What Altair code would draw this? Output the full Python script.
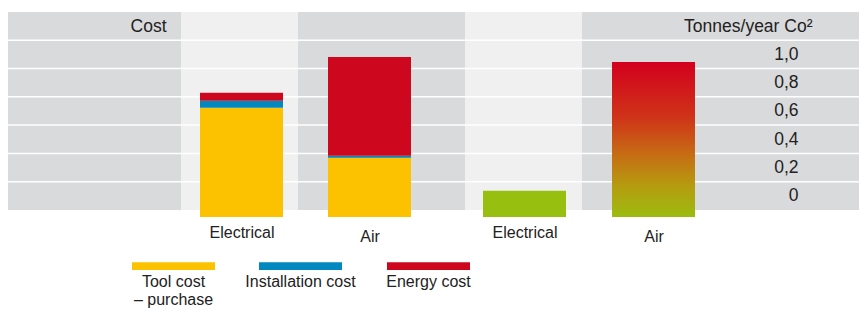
import altair as alt
import pandas as pd

# ---------------- data ----------------
tools = ["Electrical", "Air"]
components = ["Tool cost", "Installation cost", "Energy cost"]
tool_cost = [0.772, 0.419]          # segment heights (relative cost units)
installation_cost = [0.051, 0.014]
energy_cost = [0.055, 0.699]
co2_tonnes = [0.035, 0.947]         # tonnes/year
co2_ticks = [0.0, 0.2, 0.4, 0.6, 0.8, 1.0]

# ---------------- layout / style ----------------
W, H = 851, 205
Y_MIN, Y_MAX = -0.15, 1.3
BAND_LO = -0.1
col_edges = [0, 173, 290, 457, 574, 851]
col_fill = ["#d9dadc", "#f0f0f0", "#d9dadc", "#f0f0f0", "#d9dadc"]
cost_centers = [233.5, 361.5]
co2_centers = [516.5, 645.5]
BAR_W = 83
row_lines = [0.1, 0.3, 0.5, 0.7, 0.9, 1.1]

COMP_COLORS = ["#fcc200", "#0088bf", "#cd081e"]
GREEN = "#97bf0f"
TEXT = "#222222"
FONT = "Liberation Sans"

xs = alt.Scale(domain=[0, W], nice=False, zero=False)
ys = alt.Scale(domain=[Y_MIN, Y_MAX], nice=False, zero=False)

# ---------------- tables ----------------
bg_df = pd.DataFrame({
    "x0": col_edges[:-1], "x1": col_edges[1:],
    "y0": BAND_LO, "y1": Y_MAX, "fill": col_fill,
})

rows = []
for i, t in enumerate(tools):
    base = Y_MIN
    for comp, vals in zip(components, [tool_cost, installation_cost, energy_cost]):
        rows.append({"tool": t, "component": comp,
                     "x0": cost_centers[i] - BAR_W / 2, "x1": cost_centers[i] + BAR_W / 2,
                     "y0": base, "y1": base + vals[i]})
        base += vals[i]
cost_df = pd.DataFrame(rows)

co2_df = pd.DataFrame({
    "tool": tools,
    "x0": [c - BAR_W / 2 for c in co2_centers],
    "x1": [c + BAR_W / 2 for c in co2_centers],
    "base": Y_MIN, "co2": co2_tonnes,
})

all_centers = cost_centers + co2_centers
all_names = tools + tools
x_label_expr = " : ".join(f"datum.value == {c} ? '{n}'" for c, n in zip(all_centers, all_names)) + " : ''"
air_test = " || ".join(f"datum.value == {c}" for c, n in zip(all_centers, all_names) if n == "Air")

# ---------------- layers ----------------
bg = alt.Chart(bg_df).mark_rect().encode(
    x=alt.X("x0:Q", scale=xs, axis=alt.Axis(
        values=all_centers, labelExpr=x_label_expr, title=None, domain=False, ticks=False,
        grid=False, labelFontSize=16, labelColor=TEXT, labelFont=FONT, labelOverlap=False,
        labelFlush=False,
        labelPadding={"condition": {"test": air_test, "value": 11}, "value": 7})),
    x2="x1",
    y=alt.Y("y0:Q", scale=ys, axis=alt.Axis(
        orient="left", title="Cost", titleAngle=0, titleAlign="right", titleBaseline="middle",
        titleX=158, titleY=14, titleFontSize=17.5, titleFontWeight="normal", titleColor=TEXT,
        titleFont=FONT, labels=False, ticks=False, domain=False, grid=False, zindex=1)),
    y2="y1",
    color=alt.Color("fill:N", scale=None),
)

rules = alt.Chart(pd.DataFrame({"y": row_lines})).mark_rule(color="white", strokeWidth=1.5).encode(
    y=alt.Y("y:Q", scale=ys, axis=None)
)

cost = alt.Chart(cost_df).mark_rect().encode(
    x=alt.X("x0:Q", scale=xs, axis=None),
    x2="x1",
    y=alt.Y("y0:Q", scale=ys, axis=None),
    y2="y1",
    color=alt.Color("component:N", scale=alt.Scale(domain=components, range=COMP_COLORS),
                    legend=alt.Legend(
                        orient="none", legendX=124, legendY=220, direction="horizontal",
                        title=None, symbolType="M-1,-0.28H1V-0.09H-1Z", symbolSize=6889,
                        symbolStrokeWidth=0, labelAlign="center", labelBaseline="top",
                        labelOffset={"expr": "-41.5"}, labelFontSize=16, labelFont=FONT,
                        labelColor=TEXT, columnPadding=30, gridAlign="each", padding=0,
                        labelLimit=300,
                        labelExpr="datum.label == 'Tool cost' ? ['Tool cost', '– purchase'] : [datum.label, ' ']")),
)

right_axis = alt.Axis(
    orient="right", values=co2_ticks, offset=-61,
    labelExpr="datum.value == 0 ? '0' : replace(format(datum.value, '.1f'), '.', ',')",
    labelAlign="right", labelBaseline="middle", labelPadding=0, ticks=False, domain=False,
    grid=False, labelFontSize=17.5, labelColor=TEXT, labelFont=FONT,
    title="Tonnes/year Co²", titleAngle=0, titleAlign="right", titleBaseline="middle",
    titleX=14, titleY=14, titleFontSize=17.5, titleFontWeight="normal", titleColor=TEXT,
    titleFont=FONT, zindex=1,
)

co2_el = alt.Chart(co2_df).transform_filter("datum.tool == 'Electrical'").mark_rect(color=GREEN).encode(
    x=alt.X("x0:Q", scale=xs, axis=None), x2="x1",
    y=alt.Y("co2:Q", scale=ys, axis=right_axis), y2="base",
)

gradient = alt.LinearGradient(
    gradient="linear", x1=0, x2=0, y1=0, y2=1,
    stops=[alt.GradientStop(offset=0, color="#d3001d"),
           alt.GradientStop(offset=0.35, color="#cf3219"),
           alt.GradientStop(offset=0.6, color="#c66d14"),
           alt.GradientStop(offset=0.8, color="#b59c0f"),
           alt.GradientStop(offset=1, color="#9cbc10")],
)
co2_air = alt.Chart(co2_df).transform_filter("datum.tool == 'Air'").mark_rect(color=gradient).encode(
    x=alt.X("x0:Q", scale=xs, axis=None), x2="x1",
    y=alt.Y("co2:Q", scale=ys, axis=None), y2="base",
)

chart = alt.layer(bg, rules, cost, co2_el, co2_air).resolve_axis(
    x="independent", y="independent"
).properties(
    width=W, height=H,
    autosize=alt.AutoSizeParams(type="none"),
    padding={"left": 0, "top": 4, "right": 0, "bottom": 95},
).configure(font=FONT).configure_view(stroke=None)

chart.save("out.html", embed_options={"renderer": "svg", "actions": False})
